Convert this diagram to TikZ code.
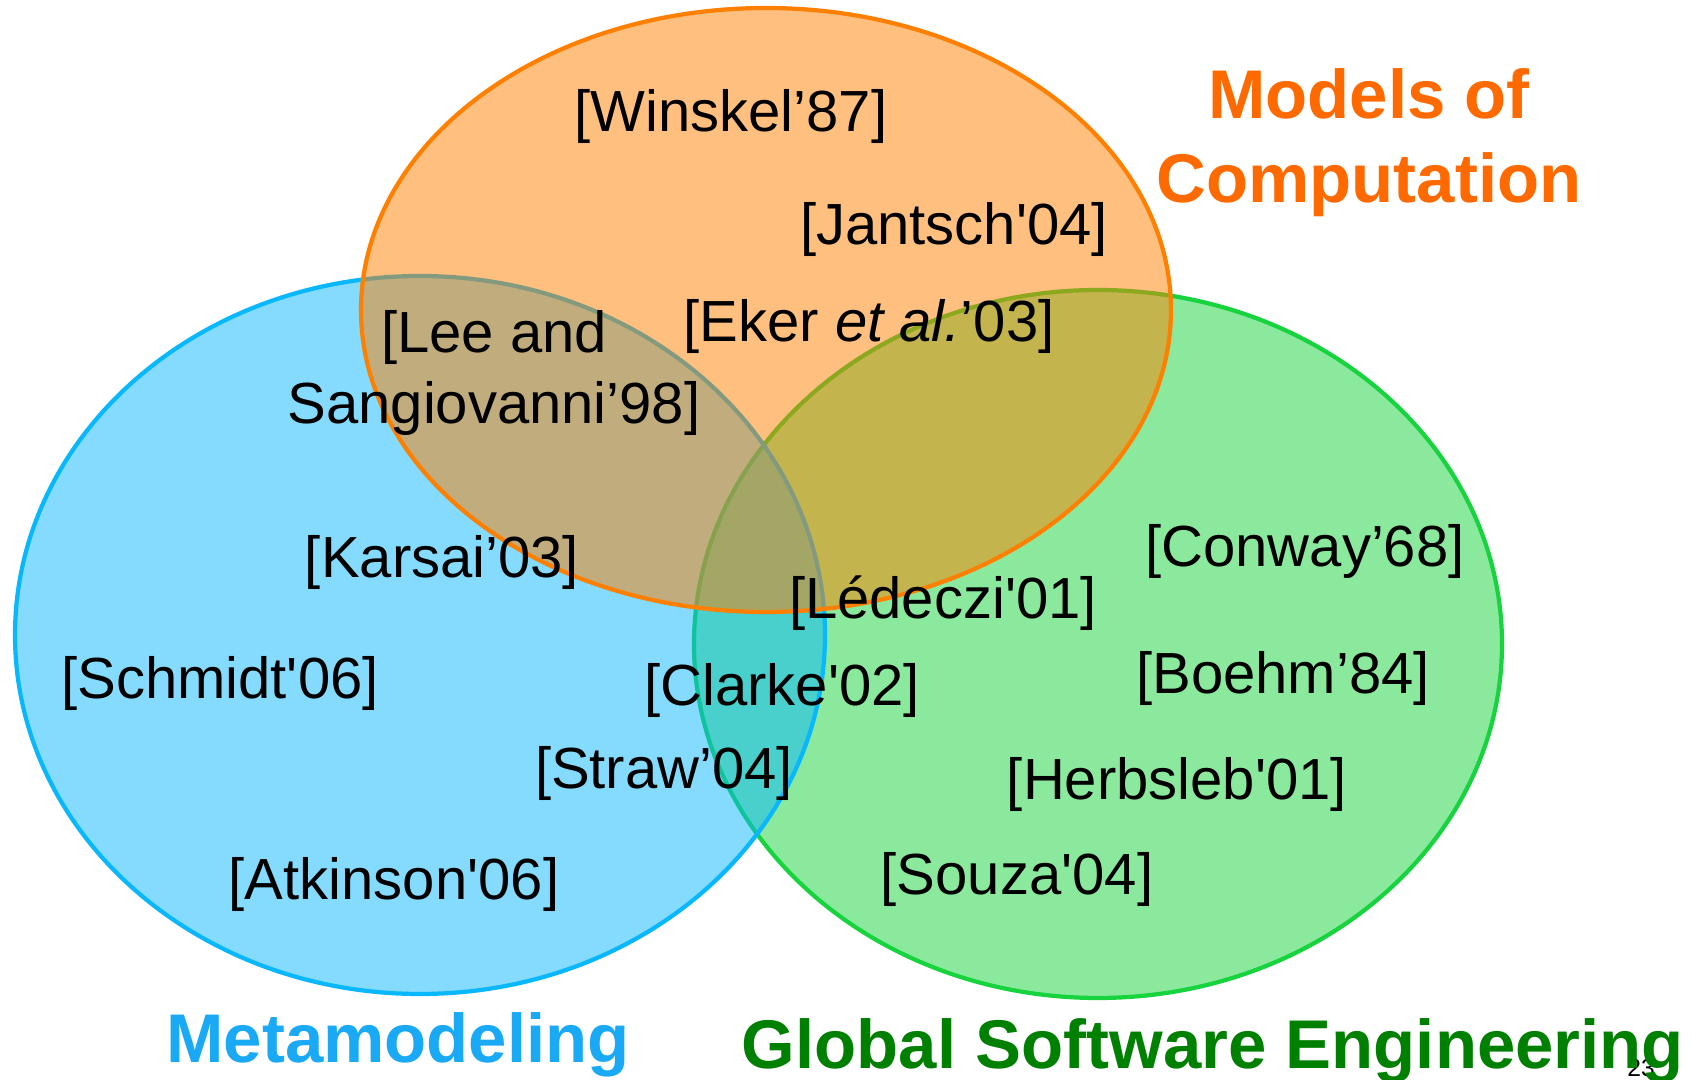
\documentclass[tikz,border=0pt]{standalone}
\usepackage{fontspec}
\setmainfont{Liberation Sans}
\definecolor{mocorange}{HTML}{FF7F00}
\definecolor{metablue}{HTML}{09B7FD}
\definecolor{gsegreen}{HTML}{17D33D}
\definecolor{moctitle}{HTML}{FF6A00}
\definecolor{metatitle}{HTML}{1AA9F5}
\definecolor{gsetitle}{HTML}{008000}

\begin{document}
\begin{tikzpicture}[x=0.01cm, y=-0.01cm,
    set/.style={line width=1.2pt, fill opacity=0.5},
    ref/.style={font=\fontsize{16.5}{20.2}\selectfont, inner sep=0pt, align=center},
    title/.style={font=\fontsize{19.6}{23.9}\selectfont\bfseries, inner sep=0pt, align=center}]
    \useasboundingbox (0,0) rectangle (1699,1080);

    \draw[set, draw=gsegreen, fill=gsegreen] (1098,644) ellipse [x radius=404, y radius=354];
    \draw[set, draw=metablue, fill=metablue, draw opacity=1] (420,635) ellipse [x radius=405, y radius=359];
    \draw[set, draw=mocorange, fill=mocorange, draw opacity=1] (766,310) ellipse [x radius=405, y radius=302];

    \draw (731,117) node[ref] (winskel) {[Winskel’87]};
    \draw (954,230) node[ref] (jantsch) {[Jantsch\textquotesingle 04]};
    \draw (869,327) node[ref] (eker) {[Eker \textit{et al.}’03]};
    \draw (494,373) node[ref] (lee) {[Lee and\\Sangiovanni’98]};
    \draw (442,563) node[ref] (karsai) {[Karsai’03]};
    \draw (220,684) node[ref] (schmidt) {[Schmidt\textquotesingle 06]};
    \draw (782,691) node[ref] (clarke) {[Clarke\textquotesingle 02]};
    \draw (664,774) node[ref] (straw) {[Straw’04]};
    \draw (394,885) node[ref] (atkinson) {[Atkinson\textquotesingle 06]};
    \draw (943,603) node[ref] (ledeczi) {[Lédeczi\textquotesingle 01]};
    \draw (1305,552) node[ref] (conway) {[Conway’68]};
    \draw (1283,679) node[ref] (boehm) {[Boehm’84]};
    \draw (1177,785) node[ref] (herbsleb) {[Herbsleb\textquotesingle 01]};
    \draw (1017,880) node[ref] (souza) {[Souza\textquotesingle 04]};

    \draw (1641,1068) node[font=\fontsize{7}{8}\selectfont, inner sep=0pt] (page) {23};

    \draw (1369,143) node[title, text=moctitle] (moc) {Models of\\Computation};
    \draw (398,1045) node[title, text=metatitle] (meta) {Metamodeling};
    \draw (1213,1051) node[title, text=gsetitle] (gse) {Global Software Engineering};
\end{tikzpicture}
\end{document}
